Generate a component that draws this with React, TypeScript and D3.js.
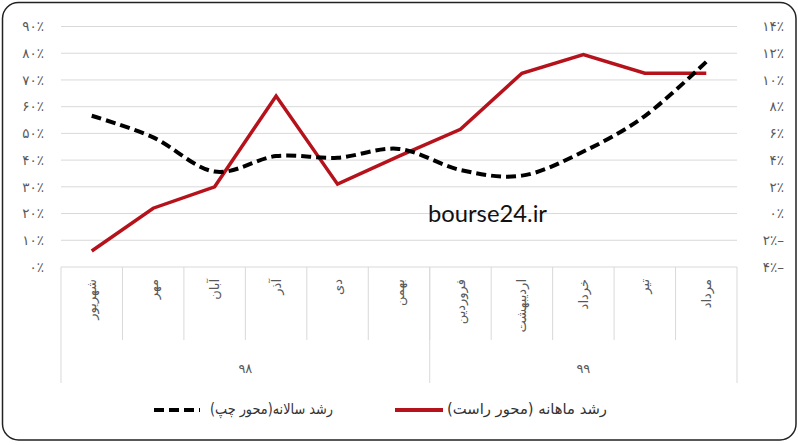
import React from "react";
import * as d3 from "d3";

const months = ["شهریور", "مهر", "آبان", "آذر", "دی", "بهمن", "فروردین", "اردیبهشت", "خرداد", "تیر", "مرداد"];
const years = ["۹۸", "۹۹"];
const yearCounts = [6, 5];
// yearly growth (left axis, %)
const yearlyGrowth = [56.6, 48.5, 35.7, 41.5, 40.9, 44.2, 36.3, 34.2, 43.2, 56.5, 76.8];
// monthly growth (right axis, %)
const monthlyGrowth = [-2.8, 0.4, 2.0, 8.8, 2.2, 4.3, 6.3, 10.5, 11.9, 10.5, 10.5];
const leftTicks = [0, 10, 20, 30, 40, 50, 60, 70, 80, 90];
const leftTickLabels = ["۰٪", "۱۰٪", "۲۰٪", "۳۰٪", "۴۰٪", "۵۰٪", "۶۰٪", "۷۰٪", "۸۰٪", "۹۰٪"];
const rightTicks = [-4, -2, 0, 2, 4, 6, 8, 10, 12, 14];
const rightTickLabels = ["۴٪–", "۲٪–", "۰٪", "۲٪", "۴٪", "۶٪", "۸٪", "۱۰٪", "۱۲٪", "۱۴٪"];
const legendLabels = ["رشد سالانه(محور چپ)", "رشد ماهانه (محور راست)"];
const watermark = "bourse24.ir";

const W = 798, H = 445;
const plotL = 61, plotR = 737, plotT = 26.5, plotB = 267;
const RED = "#B5121B";
const GRID = "#D9D9D9";
const TXT = "#595959";
const FONT = "'DejaVu Sans', sans-serif";

export default function App() {
  const x = d3.scaleBand<string>().domain(months).range([plotL, plotR]).padding(0);
  const yL = d3.scaleLinear().domain([0, 90]).range([plotB, plotT]);
  const yR = d3.scaleLinear().domain([-4, 14]).range([plotB, plotT]);
  const cx = (m: string) => (x(m) as number) + x.bandwidth() / 2;

  const redLine = d3.line<number>().x((_, i) => cx(months[i])).y((d) => yR(d))(monthlyGrowth) as string;
  const blackLine = d3
    .line<number>()
    .x((_, i) => cx(months[i]))
    .y((d) => yL(d))
    .curve(d3.curveCardinal.tension(0))(yearlyGrowth) as string;

  const groupEdges: number[] = [plotL];
  let acc = 0;
  yearCounts.forEach((c) => {
    acc += c;
    groupEdges.push((x(months[acc - 1]) as number) + x.bandwidth());
  });

  return (
    <svg width={W} height={H} style={{ position: "absolute", left: 0, top: 0, background: "#fff" }}>
      <rect x={2.5} y={2.5} width={793.5} height={437.5} rx={16} ry={16} fill="#fff" stroke="#222" strokeWidth={1.5} />
      {leftTicks.map((t) => (
        <line key={t} x1={plotL} x2={plotR} y1={yL(t)} y2={yL(t)} stroke={GRID} strokeWidth={1} />
      ))}
      {leftTicks.map((t, i) => (
        <text key={"l" + t} x={44} y={yL(t)} dy="0.35em" textAnchor="end" fontFamily={FONT} fontSize={13.5} fill={TXT}>
          {leftTickLabels[i]}
        </text>
      ))}
      {rightTicks.map((t, i) => (
        <text key={"r" + t} x={784} y={yR(t)} dy="0.35em" textAnchor="end" fontFamily={FONT} fontSize={13.5} fill={TXT}>
          {rightTickLabels[i]}
        </text>
      ))}
      {months.map((m, i) =>
        i === 0 ? null : (
          <line key={"t" + m} x1={x(m) as number} x2={x(m) as number} y1={plotB} y2={340} stroke={GRID} strokeWidth={1} />
        )
      )}
      {groupEdges.map((gx, i) => (
        <line key={"g" + i} x1={gx} x2={gx} y1={plotB} y2={383} stroke={GRID} strokeWidth={1} />
      ))}
      {months.map((m) => (
        <text
          key={"c" + m}
          transform={`translate(${cx(m)},279) rotate(-90)`}
          textAnchor="end"
          dominantBaseline="central"
          fontFamily={FONT}
          fontSize={13}
          fill={TXT}
        >
          {m}
        </text>
      ))}
      {years.map((yv, i) => (
        <text
          key={"y" + yv}
          x={(groupEdges[i] + groupEdges[i + 1]) / 2}
          y={368}
          dy="0.35em"
          textAnchor="middle"
          fontFamily={FONT}
          fontSize={13}
          fill={TXT}
        >
          {yv}
        </text>
      ))}
      <text x={428} y={222} fontFamily="Lato, sans-serif" fontSize={23} fill="#111" textLength={119} lengthAdjust="spacingAndGlyphs">
        {watermark}
      </text>
      <path d={redLine} fill="none" stroke={RED} strokeWidth={3.5} strokeLinejoin="miter" />
      <path d={blackLine} fill="none" stroke="#000" strokeWidth={4} strokeDasharray="10,5" />
      {/* legend */}
      <line x1={154} x2={200} y1={410} y2={410} stroke="#000" strokeWidth={4} strokeDasharray="10,5" />
      <text x={333} y={409} dy="0.35em" direction="rtl" textAnchor="start" fontFamily={FONT} fontSize={15} fill="#333" textLength={123} lengthAdjust="spacingAndGlyphs">
        {legendLabels[0]}
      </text>
      <line x1={395} x2={443} y1={410} y2={410} stroke={RED} strokeWidth={4} />
      <text x={607} y={409} dy="0.35em" direction="rtl" textAnchor="start" fontFamily={FONT} fontSize={15} fill="#333" textLength={160} lengthAdjust="spacingAndGlyphs">
        {legendLabels[1]}
      </text>
    </svg>
  );
}
